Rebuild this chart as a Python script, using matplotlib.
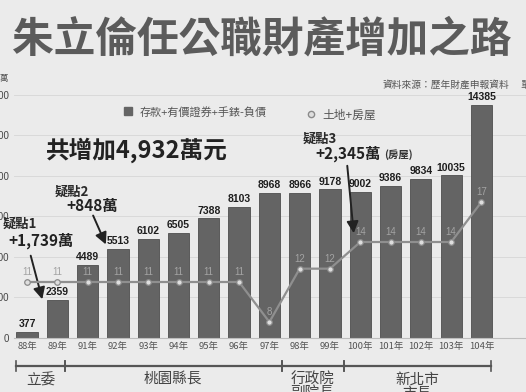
import matplotlib
matplotlib.use("Agg")
import matplotlib.pyplot as plt

plt.rcParams['font.family'] = ['Noto Sans CJK TC', 'DejaVu Sans']

# 資料
years = ['88年', '89年', '91年', '92年', '93年', '94年', '95年', '96年',
         '97年', '98年', '99年', '100年', '101年', '102年', '103年', '104年']
deposits = [377, 2359, 4489, 5513, 6102, 6505, 7388, 8103,
            8968, 8966, 9178, 9002, 9386, 9834, 10035, 14385]
land_house = [11, 11, 11, 11, 11, 11, 11, 11, 8, 12, 12, 14, 14, 14, 14, 17]
y_ticks = [0, 2500, 5000, 7500, 10000, 12500, 15000]

# 職位區段 (起, 迄, 名稱)
posts = [(-0.35, 1.25, '立委'), (1.25, 8.4, '桃園縣長'),
         (8.4, 10.45, '行政院\n副院長'), (10.45, 15.3, '新北市\n市長')]

W, H = 526, 392
BG = '#ebebeb'


def fx(x):
    return x / W


def fy(y):
    return 1 - y / H


fig = plt.figure(figsize=(W / 100, H / 100), dpi=100, facecolor=BG)

# 主圖: 底線 y=338px, 頂 y=88px
ax = fig.add_axes([fx(14), fy(338), fx(512), 250 / H])
ax.set_facecolor('none')
x = list(range(len(years)))
ax.bar(x, deposits, width=0.7, color='#646464', edgecolor='#4e4e4e', linewidth=0.6, zorder=2)
ax.set_xlim(-0.43, 16.47)
ax.set_ylim(0, 15430)
ax.set_yticks(y_ticks)
ax.set_yticklabels([str(v) for v in y_ticks], fontsize=7, color='#444', family='Liberation Sans')
ax.tick_params(axis='y', length=0, pad=3.5)
ax.set_xticks(x)
ax.set_xticklabels(years, fontsize=6.8, color='#555')
ax.tick_params(axis='x', length=0, pad=3)
ax.yaxis.grid(True, color='#d6d6d6', linewidth=0.6)
ax.set_axisbelow(True)
for s in ['left', 'right', 'top']:
    ax.spines[s].set_visible(False)
ax.spines['bottom'].set_color('#bdbdbd')
ax.spines['bottom'].set_linewidth(0.8)

for xi, v in zip(x, deposits):
    ax.annotate(str(v), (xi, v), xytext=(0, 2), textcoords='offset points',
                ha='center', va='bottom', fontsize=7.5, fontweight='bold',
                color='#1e1e1e', family='Liberation Sans')

# 土地+房屋 折線 (副軸)
ax2 = ax.twinx()
ax2.set_ylim(6.8, 25.55)
ax2.axis('off')
ax2.plot(x, land_house, color='#8f8f8f', linewidth=1.6, marker='o', markersize=4,
         markerfacecolor='#dedede', markeredgecolor='#8a8a8a', markeredgewidth=0.9, zorder=3)
for xi, v in zip(x, land_house):
    ax2.annotate(str(v), (xi, v), xytext=(0, 3.5), textcoords='offset points',
                 ha='center', va='bottom', fontsize=7, color='#a3a3a3',
                 family='Liberation Sans')

# 標題與來源
fig.text(fx(262), fy(40), '朱立倫任公職財產增加之路', ha='center', va='center',
         fontsize=30, fontweight='bold', color='#5b5b5b')
fig.text(fx(383), fy(85), '資料來源：歷年財產申報資料', ha='left', va='center',
         fontsize=7, color='#555')
fig.text(fx(520), fy(85), '單位：萬元', ha='left', va='center', fontsize=7, color='#555')
fig.text(fx(0), fy(78), '萬', ha='left', va='center', fontsize=6, color='#555')

# 圖例
fig.lines.append(plt.Line2D([fx(128)], [fy(111)], marker='s', markersize=6,
                            color='#646464', transform=fig.transFigure))
fig.text(fx(140), fy(112), '存款+有價證券+手錶-負債', ha='left', va='center',
         fontsize=8, color='#555')
fig.lines.append(plt.Line2D([fx(311)], [fy(114)], marker='o', markersize=4.5,
                            markerfacecolor='#dedede', markeredgecolor='#8a8a8a',
                            transform=fig.transFigure))
fig.text(fx(322), fy(115), '土地+房屋', ha='left', va='center', fontsize=8.5, color='#555')

# 註解
fig.text(fx(46), fy(150), '共增加4,932萬元', ha='left', va='center',
         fontsize=17, fontweight='bold', color='#222')

notes = [((3, 224), (8, 241), '疑點1', '+1,739萬', (30, 253), (43, 302)),
         ((55, 192), (66, 206), '疑點2', '+848萬', (92, 213), (107, 247)),
         ((303, 139), (315, 154), '疑點3', '+2,345萬', (347, 163), (354, 236))]
for (p1, p2, t1, t2, a0, a1) in notes:
    fig.text(fx(p1[0]), fy(p1[1]), t1, ha='left', va='center', fontsize=9.5,
             fontweight='bold', color='#2a2a2a')
    fig.text(fx(p2[0]), fy(p2[1]), t2, ha='left', va='center', fontsize=11,
             fontweight='bold', color='#222')
    ax.annotate('', xy=(a1[0], H - a1[1]), xycoords='figure pixels',
                xytext=(a0[0], H - a0[1]), textcoords='figure pixels',
                arrowprops=dict(arrowstyle='-|>,head_width=0.35,head_length=0.7',
                                color='#222', lw=1.4))
fig.text(fx(384), fy(155), '(房屋)', ha='left', va='center', fontsize=7.5,
         fontweight='bold', color='#333')

# 職位區段
yb = fy(366)
for (a, b, name) in posts:
    xa = fx(14 + (a + 0.43) * 512 / 16.9)
    xb = fx(14 + (b + 0.43) * 512 / 16.9)
    fig.lines.append(plt.Line2D([xa, xb], [yb, yb], color='#555', linewidth=1.6,
                                transform=fig.transFigure))
    for xe in (xa, xb):
        fig.lines.append(plt.Line2D([xe, xe], [yb - 5 / H, yb + 5 / H], color='#555',
                                    linewidth=1.2, transform=fig.transFigure))
    fig.text((xa + xb) / 2, fy(373), name, ha='center', va='top', fontsize=10.5,
             color='#444', linespacing=0.95)

fig.savefig('out.png', dpi=100, facecolor=BG)
